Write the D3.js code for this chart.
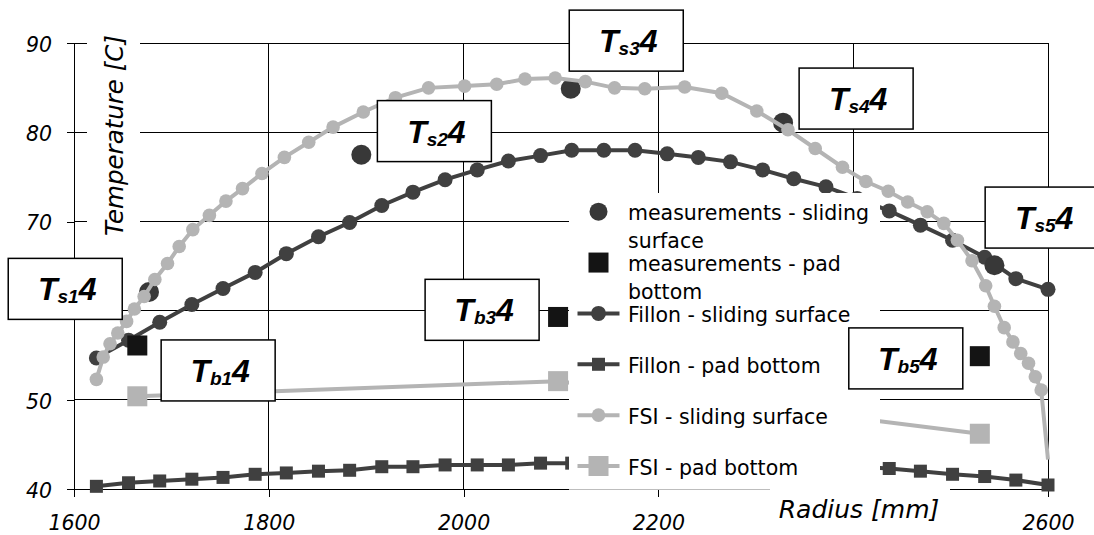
<!DOCTYPE html>
<html>
<head>
<meta charset="utf-8">
<script src="https://cdn.jsdelivr.net/npm/d3@7/dist/d3.min.js"></script>
<style>
  html, body { margin: 0; padding: 0; background: #fff; }
  svg { display: block; }
  text { font-family: "DejaVu Sans", Verdana, sans-serif; fill: #000; }
</style>
</head>
<body>
<svg id="chart" width="1094" height="535"></svg>
<script>
// ---- Fillon model: temperature along the pad radius ----
const fillonRadius = [1623, 1656, 1688, 1721, 1753, 1786, 1818, 1851, 1883, 1916, 1948,
  1981, 2014, 2046, 2079, 2111, 2144, 2176, 2209, 2241, 2274, 2307, 2339, 2372, 2404,
  2437, 2469, 2502, 2535, 2567, 2600];
const fillonSliding = [54.7, 56.7, 58.7, 60.7, 62.5, 64.3, 66.4, 68.3, 69.9, 71.8, 73.3,
  74.7, 75.8, 76.8, 77.4, 78.0, 78.0, 78.0, 77.6, 77.2, 76.7, 75.8, 74.8, 73.9, 72.6,
  71.2, 69.6, 67.9, 66.0, 63.6, 62.4];
const fillonPad = [40.3, 40.7, 40.9, 41.1, 41.3, 41.65, 41.8, 42.0, 42.1, 42.5, 42.5,
  42.7, 42.7, 42.7, 42.9, 42.9, 42.9, 43.0, 43.0, 43.0, 42.95, 42.9, 42.8, 42.65, 42.5,
  42.3, 42.0, 41.65, 41.4, 41.0, 40.45];

// ---- FSI model: sliding surface on a refined mesh, pad bottom at three stations ----
const fsiRadius = [1623, 1630, 1637, 1645, 1654, 1662, 1672, 1683, 1696, 1708, 1722,
  1739, 1756, 1773, 1793, 1816, 1841, 1866, 1897, 1930, 1964, 2001, 2034, 2063, 2094,
  2125, 2155, 2186, 2227, 2265, 2301, 2333, 2361, 2389, 2413, 2436, 2456, 2476, 2493,
  2507, 2522, 2536, 2545, 2555, 2564, 2572, 2580, 2587, 2593, 2600];
const fsiSliding = [52.3, 54.8, 56.3, 57.5, 58.8, 60.2, 61.6, 63.5, 65.3, 67.2, 69.1,
  70.7, 72.3, 73.7, 75.4, 77.2, 78.9, 80.6, 82.3, 83.9, 85.0, 85.2, 85.4, 86.0, 86.1,
  85.7, 85.0, 84.9, 85.1, 84.4, 82.4, 80.3, 78.2, 76.1, 74.5, 73.4, 72.2, 71.1, 69.8,
  67.9, 65.6, 62.8, 60.5, 58.1, 56.5, 55.2, 54.1, 52.6, 51.1, 43.3];
const fsiPadRadius = [1665, 2097, 2530];
const fsiPad = [50.4, 52.1, 46.2];

// ---- Thermocouple measurements ----
const measSlidingRadius = [1677, 1895, 2110, 2328, 2545];
const measSliding = [62.1, 77.5, 84.9, 81.1, 65.1];
const measPadRadius = [1665, 2097, 2530];
const measPad = [56.1, 59.3, 54.9];

// ---- Sensor tags (placed in data units) ----
const tagSub = ["s1", "s2", "s3", "s4", "s5", "b1", "b3", "b5"];
const tagRadius = [1591, 1970, 2167, 2403, 2594, 1748, 2019, 2454];
const tagTemp = [62.45, 80.15, 90.3, 83.8, 70.45, 53.3, 60.1, 54.65];

// ---- Axes ----
const xTicks = [1600, 1800, 2000, 2200, 2400, 2600];
const yTicks = [40, 50, 60, 70, 80, 90];
const xTickLabels = ["1600", "1800", "2000", "2200", "", "2600"];
const yTickLabels = ["40", "50", "", "70", "80", "90"];
const xTitle = "Radius [mm]";
const yTitle = "Temperature [C]";

const legendNames = [
  "measurements - sliding surface",
  "measurements - pad bottom",
  "Fillon - sliding surface",
  "Fillon - pad bottom",
  "FSI - sliding surface",
  "FSI - pad bottom"
];

const DARK = "#404040", LIGHT = "#b4b4b4", MEAS = "#383838", BLACK = "#141414";

const svg = d3.select("#chart");
const x = d3.scaleLinear().domain([1600, 2600]).range([74, 1048]);
const y = d3.scaleLinear().domain([40, 90]).range([489, 43.3]);

// grid
const grid = svg.append("g").attr("shape-rendering", "crispEdges")
  .attr("stroke", "#000").attr("stroke-width", 1);
grid.selectAll(".gh").data(yTicks.slice(1)).join("line")
  .attr("x1", x(1600)).attr("x2", x(2600))
  .attr("y1", d => y(d)).attr("y2", d => y(d));
grid.selectAll(".gv").data(xTicks.slice(1)).join("line")
  .attr("x1", d => x(d)).attr("x2", d => x(d))
  .attr("y1", y(90)).attr("y2", y(40));

// axes
const xAxis = d3.axisBottom(x).tickValues(xTicks)
  .tickFormat((d, i) => xTickLabels[i]).tickSize(8).tickSizeOuter(0).tickPadding(18);
const yAxis = d3.axisLeft(y).tickValues(yTicks)
  .tickFormat((d, i) => yTickLabels[i]).tickSize(7).tickSizeOuter(0).tickPadding(15);

function styleAxis(g) {
  g.attr("shape-rendering", "crispEdges");
  g.select(".domain").attr("stroke", "#000");
  g.selectAll(".tick line").attr("stroke", "#000");
  g.selectAll(".tick text").attr("font-family", "DejaVu Sans, sans-serif")
    .attr("font-style", "italic").attr("font-size", 20.5).attr("fill", "#000");
}
svg.append("g").attr("transform", `translate(0,${y(40)})`).call(xAxis).call(styleAxis);
svg.append("g").attr("transform", `translate(${x(1600)},0)`).call(yAxis).call(styleAxis)
  .selectAll(".tick text").attr("dy", "0.4em");

// series
const line = d3.line().x(d => x(d[0])).y(d => y(d[1]));
const zip = (a, b) => a.map((v, i) => [v, b[i]]);

const fillonS = zip(fillonRadius, fillonSliding);
const fillonP = zip(fillonRadius, fillonPad);
const fsiS = zip(fsiRadius, fsiSliding);
const fsiP = zip(fsiPadRadius, fsiPad);
const measS = zip(measSlidingRadius, measSliding);
const measP = zip(measPadRadius, measPad);

const plot = svg.append("g");

// FSI pad bottom
plot.append("path").datum(fsiP).attr("d", line).attr("fill", "none")
  .attr("stroke", LIGHT).attr("stroke-width", 4);
plot.selectAll(".fp").data(fsiP).join("rect")
  .attr("x", d => x(d[0]) - 10).attr("y", d => y(d[1]) - 10)
  .attr("width", 20).attr("height", 20).attr("fill", LIGHT);

// Fillon pad bottom
plot.append("path").datum(fillonP).attr("d", line).attr("fill", "none")
  .attr("stroke", DARK).attr("stroke-width", 4);
plot.selectAll(".flp").data(fillonP).join("rect")
  .attr("x", d => x(d[0]) - 6.5).attr("y", d => y(d[1]) - 6.5)
  .attr("width", 13).attr("height", 13).attr("fill", DARK);

// Fillon sliding surface
plot.append("path").datum(fillonS).attr("d", line).attr("fill", "none")
  .attr("stroke", DARK).attr("stroke-width", 4);
plot.selectAll(".fls").data(fillonS).join("circle")
  .attr("cx", d => x(d[0])).attr("cy", d => y(d[1])).attr("r", 7.5).attr("fill", DARK);

// measurements
plot.selectAll(".mp").data(measP).join("rect")
  .attr("x", d => x(d[0]) - 10).attr("y", d => y(d[1]) - 10)
  .attr("width", 20).attr("height", 20).attr("fill", BLACK);
plot.selectAll(".ms").data(measS).join("circle")
  .attr("cx", d => x(d[0])).attr("cy", d => y(d[1])).attr("r", 10).attr("fill", MEAS);

// FSI sliding surface (last node on the outer edge carries no marker)
plot.append("path").datum(fsiS).attr("d", line).attr("fill", "none")
  .attr("stroke", LIGHT).attr("stroke-width", 4);
plot.selectAll(".fs").data(fsiS.filter(d => d[0] < 2600)).join("circle")
  .attr("cx", d => x(d[0])).attr("cy", d => y(d[1])).attr("r", 6.8).attr("fill", LIGHT);

// legend
const leg = svg.append("g");
leg.append("rect").attr("x", 569).attr("y", 193).attr("width", 311).attr("height", 296)
  .attr("fill", "#fff");
leg.append("line").attr("x1", 569).attr("x2", 770).attr("y1", 489.5).attr("y2", 489.5)
  .attr("stroke", "#bdbdbd").attr("stroke-width", 1);

const legendSym = [
  g => g.append("circle").attr("r", 9).attr("fill", MEAS),
  g => g.append("rect").attr("x", -10).attr("y", -10).attr("width", 20).attr("height", 20).attr("fill", BLACK),
  g => { g.append("line").attr("x1", -21).attr("x2", 21).attr("stroke", DARK).attr("stroke-width", 4);
         g.append("circle").attr("r", 7.5).attr("fill", DARK); },
  g => { g.append("line").attr("x1", -21).attr("x2", 21).attr("stroke", DARK).attr("stroke-width", 4);
         g.append("rect").attr("x", -6.5).attr("y", -6.5).attr("width", 13).attr("height", 13).attr("fill", DARK); },
  g => { g.append("line").attr("x1", -21).attr("x2", 21).attr("stroke", LIGHT).attr("stroke-width", 4);
         g.append("circle").attr("r", 6.8).attr("fill", LIGHT); },
  g => { g.append("line").attr("x1", -21).attr("x2", 21).attr("stroke", LIGHT).attr("stroke-width", 4);
         g.append("rect").attr("x", -10).attr("y", -10).attr("width", 20).attr("height", 20).attr("fill", LIGHT); }
];
const legendY = d3.scalePoint().domain(d3.range(legendNames.length)).range([211.7, 466]);
legendNames.forEach((name, i) => {
  const cy = legendY(i);
  const g = leg.append("g").attr("transform", `translate(598.5,${cy})`);
  legendSym[i](g);
  const t = leg.append("text").attr("x", 628).attr("y", cy + 8.5).attr("font-size", 20.5);
  // wrap into lines no wider than the legend column
  const words = name.split(" ");
  let lineWords = [];
  let ts = t.append("tspan").attr("x", 628).attr("dy", 0);
  words.forEach(w => {
    lineWords.push(w);
    ts.text(lineWords.join(" "));
    if (ts.node().getComputedTextLength() > 252 && lineWords.length > 1) {
      lineWords.pop();
      ts.text(lineWords.join(" "));
      lineWords = [w];
      ts = t.append("tspan").attr("x", 628).attr("dy", 27.5).text(w);
    }
  });
});

// axis titles on white backing
svg.append("rect").attr("x", 87).attr("y", 26).attr("width", 53).attr("height", 224).attr("fill", "#fff");
svg.append("text").attr("transform", `translate(123,135.5) rotate(-90)`)
  .attr("text-anchor", "middle").attr("font-style", "italic").attr("font-size", 24.5)
  .text(yTitle);
svg.append("rect").attr("x", 770).attr("y", 484).attr("width", 180).attr("height", 40).attr("fill", "#fff");
svg.append("text").attr("x", 859).attr("y", 518).attr("text-anchor", "middle")
  .attr("font-style", "italic").attr("font-size", 25).text(xTitle);

// sensor tags
const tags = svg.append("g");
tagSub.forEach((s, i) => {
  const cx = x(tagRadius[i]), cy = y(tagTemp[i]);
  tags.append("rect").attr("x", cx - 57).attr("y", cy - 30.5).attr("width", 114).attr("height", 61)
    .attr("fill", "#fff").attr("stroke", "#000").attr("stroke-width", 1.5);
  const t = tags.append("text").attr("x", cx + 2).attr("y", cy + 11.5)
    .attr("text-anchor", "middle")
    .style("font-family", "'Liberation Sans', Arial, sans-serif")
    .attr("font-weight", "bold").attr("font-style", "italic").attr("font-size", 32);
  t.append("tspan").text("T");
  t.append("tspan").attr("font-size", 19).attr("dy", 3).text(s);
  t.append("tspan").attr("dy", -3).text("4");
});
</script>
</body>
</html>
